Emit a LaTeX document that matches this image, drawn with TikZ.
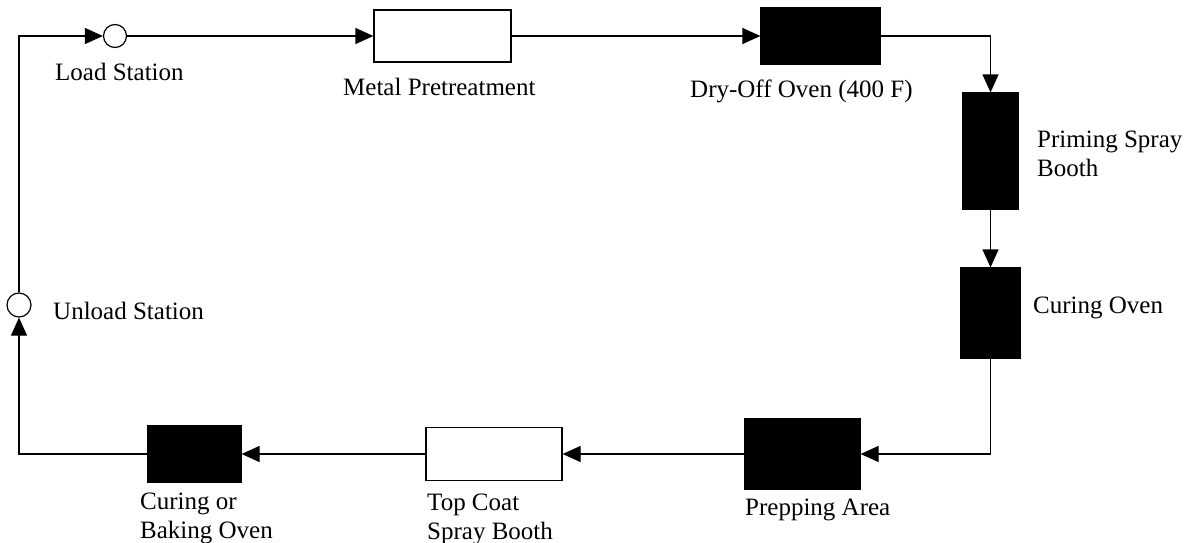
\documentclass[tikz,border=0pt]{standalone}
\usepackage{fontspec}
\setmainfont{Liberation Serif}
\usetikzlibrary{arrows.meta}
\tikzset{
  stage/.style={draw=black, line width=1.2pt, inner sep=0pt, minimum width=#1},
  stage/.default=50pt,
  whitebox/.style={fill=white},
  blackbox/.style={fill=black},
  station/.style={circle, draw=black, line width=1.2pt, fill=white, inner sep=0pt, minimum size=23pt},
  flow/.style={line width=1.2pt, -{Triangle[length=18pt,width=16pt]}},
  lbl/.style={inner sep=0pt, anchor=base west, font=\fontsize{25}{29}\selectfont}
}
\newcommand{\twolines}[2]{\begin{tabular}[t]{@{}l@{}}#1\\#2\end{tabular}}
\begin{document}
\begin{tikzpicture}[x=1pt,y=-1pt]
\useasboundingbox (0,0) rectangle (1185,543);
% stages
\node[station] (load) at (115,36) {};
\node[stage=137pt, whitebox, minimum height=52pt] (metal) at (442.5,36) {};
\node[stage=119pt, blackbox, minimum height=57pt] (dry) at (820.5,36) {};
\node[stage=55pt, blackbox, minimum height=116pt] (prime) at (990.5,151) {};
\node[stage=59pt, blackbox, minimum height=90pt] (cure) at (990.5,313) {};
\node[stage=115pt, blackbox, minimum height=70pt] (prep) at (802.5,454) {};
\node[stage=136pt, whitebox, minimum height=53pt] (top) at (494,454) {};
\node[stage=93pt, blackbox, minimum height=57pt] (bake) at (194.5,454) {};
\node[station, minimum size=24pt] (unload) at (19,305) {};
% labels
\node[lbl] (tload) at (55,80) {Load Station};
\node[lbl] (tmetal) at (343,95) {Metal Pretreatment};
\node[lbl] (tdry) at (690,97) {Dry-Off Oven (400 F)};
\node[lbl] (tprime) at (1037,147) {\twolines{Priming Spray}{Booth}};
\node[lbl] (tcure) at (1033,313) {Curing Oven};
\node[lbl] (tunload) at (53,319) {Unload Station};
\node[lbl] (tprep) at (745,515) {Prepping Area};
\node[lbl] (ttop) at (427,510) {\twolines{Top Coat}{Spray Booth}};
\node[lbl] (tbake) at (140,509) {\twolines{Curing or}{Baking Oven}};
% connectors
\draw[flow] (load.east) -- (metal.west);
\draw[flow] (metal.east) -- (dry.west);
\draw[flow] (dry.east) -| (prime.north);
\draw[flow] (prime.south) -- (cure.north);
\draw[flow] (cure.south) |- (prep.east);
\draw[flow] (prep.west) -- (top.east);
\draw[flow] (top.west) -- (bake.east);
\draw[flow] (bake.west) -| (unload.south);
\draw[flow] (unload.north) |- (load.west);
\end{tikzpicture}
\end{document}
